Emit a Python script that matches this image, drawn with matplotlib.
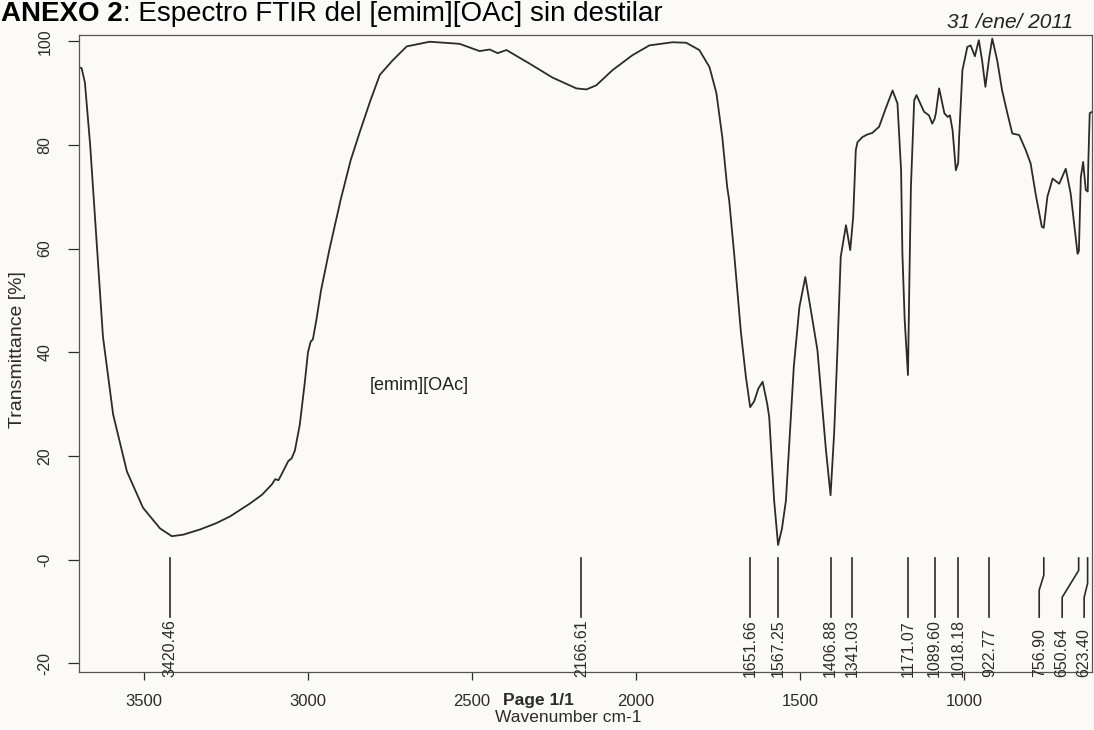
import numpy as np
import matplotlib
matplotlib.use("Agg")
from matplotlib import pyplot as plt

plt.rcParams['font.family'] = ['Liberation Sans', 'DejaVu Sans']

# espectro FTIR [emim][OAc] sin destilar (numero de onda cm-1, transmitancia %)
wavenumber = [3698, 3690, 3680, 3664, 3643, 3625, 3594, 3552, 3503, 3451, 3415,
              3380, 3329, 3280, 3238, 3177, 3140, 3110, 3100, 3090, 3080, 3060,
              3050, 3040, 3025, 3010, 3000, 2992, 2985, 2975, 2960, 2934, 2900,
              2870, 2842, 2810, 2781, 2742, 2699, 2629, 2538, 2477, 2446, 2422,
              2395, 2325, 2255, 2182, 2151, 2121, 2072, 2011, 1959, 1889, 1847,
              1807, 1776, 1755, 1737, 1722, 1716, 1700, 1680, 1665, 1652, 1640,
              1627, 1614, 1600, 1594, 1579, 1567, 1555, 1543, 1519, 1502, 1484,
              1467, 1447, 1421, 1407, 1396, 1386, 1376, 1360, 1347, 1338, 1330,
              1325, 1310, 1295, 1280, 1259, 1239, 1218, 1203, 1192, 1188, 1181,
              1171, 1167, 1162, 1152, 1145, 1122, 1107, 1097, 1090, 1086, 1076,
              1060, 1050, 1043, 1035, 1025, 1018, 1015, 1005, 990, 980, 967, 955,
              945, 935, 923, 914, 899, 884, 868, 853, 832, 812, 797, 782, 763,
              757, 746, 730, 710, 690, 675, 654, 650, 644, 637, 629, 623, 621,
              617, 609]
transmittance = [95.0, 94.8, 92.0, 80.0, 60.0, 43.0, 28.0, 17.0, 10.0, 6.0, 4.5,
                 4.8, 5.8, 7.0, 8.3, 10.8, 12.5, 14.5, 15.5, 15.3, 16.5, 19.0,
                 19.5, 21.0, 26.0, 34.0, 40.0, 42.0, 42.5, 46.0, 52.0, 60.0, 69.5,
                 77.0, 82.5, 88.5, 93.5, 96.3, 99.0, 99.9, 99.5, 98.1, 98.4, 97.7,
                 98.3, 95.7, 93.0, 90.9, 90.7, 91.5, 94.4, 97.3, 99.2, 99.8, 99.7,
                 98.3, 95.0, 90.0, 81.5, 71.8, 69.3, 58.4, 43.7, 35.2, 29.4, 30.5,
                 33.0, 34.3, 30.0, 27.5, 11.4, 2.8, 6.0, 11.4, 37.2, 48.7, 54.5,
                 48.1, 40.4, 21.1, 12.4, 24.4, 40.4, 58.4, 64.5, 59.7, 66.1, 79.0,
                 80.5, 81.5, 82.0, 82.3, 83.5, 87.0, 90.5, 88.0, 75.1, 59.1, 46.2,
                 35.6, 52.6, 71.9, 88.6, 89.6, 86.4, 85.7, 84.1, 85.0, 86.1, 90.9,
                 86.1, 85.4, 85.7, 82.8, 75.1, 76.5, 81.5, 94.4, 98.9, 99.2, 97.1,
                 100.2, 96.3, 91.2, 97.0, 100.5, 96.3, 90.5, 86.1, 82.2, 81.9, 79.0,
                 76.4, 70.6, 64.2, 64.0, 70.0, 73.5, 72.5, 75.4, 70.6, 59.0, 59.5,
                 73.8, 76.7, 71.3, 71.0, 77.0, 86.1, 86.4]

# picos marcados y donde queda su etiqueta
peaks = [3420.46, 2166.61, 1651.66, 1567.25, 1406.88, 1341.03, 1171.07,
         1089.60, 1018.18, 922.77, 756.90, 650.64, 623.40]
peak_labels = ['3420.46', '2166.61', '1651.66', '1567.25', '1406.88', '1341.03',
               '1171.07', '1089.60', '1018.18', '922.77', '756.90', '650.64', '623.40']
label_pos = [3420.46, 2166.61, 1651.66, 1567.25, 1406.88, 1341.03, 1171.07,
             1089.60, 1018.18, 922.77, 771.0, 701.0, 634.0]
bend_top = [-11.1] * 10 + [-3.0, -2.1, -4.6]
bend_bottom = [-11.1] * 10 + [-5.9, -7.3, -7.3]

x_ticks = [3500, 3000, 2500, 2000, 1500, 1000]
y_ticks = [100, 80, 60, 40, 20, 0, -20]
y_tick_labels = ['100', '80', '60', '40', '20', '-0', '-20']

paper = '#fbfaf6'
ink = '#2b2b2b'

fig = plt.figure(figsize=(10.94, 7.30), dpi=100, facecolor=paper)
ax = fig.add_axes([79 / 1094, 58 / 730, 1013 / 1094, 637 / 730])
ax.set_facecolor(paper)

ax.plot(wavenumber, transmittance, color=ink, lw=1.3)

# lineas de los picos
for p, lp, yb1, yb2, lab in zip(peaks, label_pos, bend_top, bend_bottom, peak_labels):
    ax.plot([p, p, lp, lp], [0.3, yb1, yb2, -11.1], color=ink, lw=1.2)
    ax.text(lp, -22.6, lab, rotation=90, ha='center', va='bottom',
            fontsize=11.5, color=ink, clip_on=False)

ax.set_xlim(3698, 610)
ax.set_ylim(-21.7, 101.2)
ax.set_xticks(x_ticks)
ax.set_yticks(y_ticks)
ax.set_yticklabels(y_tick_labels, rotation=90, va='center', fontsize=11.5)
ax.tick_params(axis='x', labelsize=12, length=6, width=0.9, colors=ink, pad=10)
ax.tick_params(axis='y', length=8, width=0.9, colors=ink, pad=11)
for s in ax.spines.values():
    s.set_color('#555555')
    s.set_linewidth(0.9)

fig.text(18 / 1094, 1 - 350 / 730, 'Transmittance [%]', rotation=90,
         ha='center', va='center', fontsize=14, color=ink)
fig.text(568 / 1094, 1 - 718 / 730, 'Wavenumber cm-1', ha='center', va='center',
         fontsize=12.5, color=ink)
fig.text(538 / 1094, 1 - 700 / 730, 'Page 1/1', ha='center', va='center',
         fontsize=12.5, fontweight='bold', color=ink)

# anotaciones a mano
fig.text(1010 / 1094, 1 - 22 / 730, '31 /ene/ 2011', ha='center', va='center',
         fontsize=15, style='italic', color='#222222')
ax.text(2812, 33.5, '[emim][OAc]', ha='left', va='center', fontsize=13, color='#222222')

# titulo: parte en negrita y resto normal
t1 = fig.text(1 / 1094, 1 - 21 / 730, 'ANEXO 2', fontsize=20, fontweight='bold',
              va='baseline', ha='left', color='black')
fig.canvas.draw()
bb = t1.get_window_extent(renderer=fig.canvas.get_renderer())
fig.text(bb.x1 / fig.bbox.width, 1 - 21 / 730, ': Espectro FTIR del [emim][OAc] sin destilar',
         fontsize=20, va='baseline', ha='left', color='black')

fig.savefig('out.png', dpi=100, facecolor=paper)
